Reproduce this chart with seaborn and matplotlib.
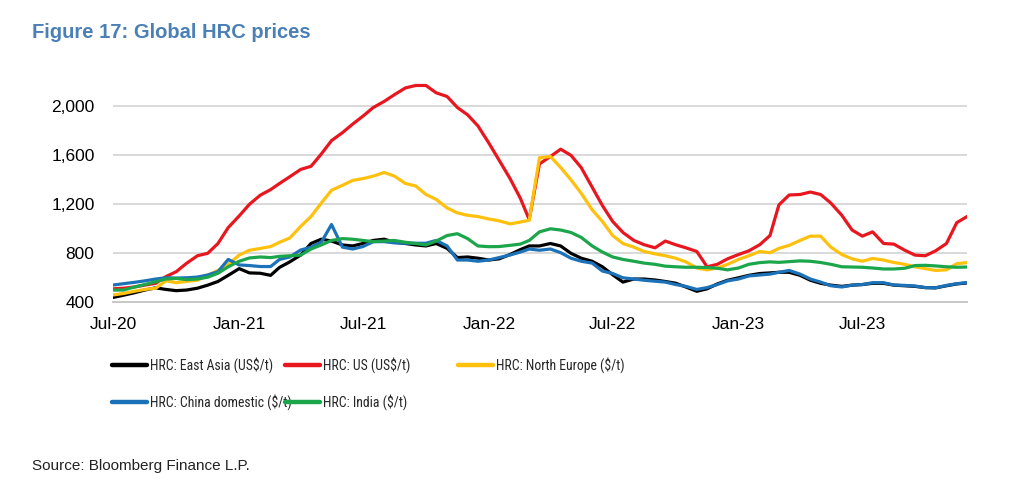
import matplotlib
matplotlib.use("Agg")
import matplotlib.pyplot as plt
from matplotlib import font_manager
from matplotlib.font_manager import FontProperties
from matplotlib.ticker import FuncFormatter
import seaborn as sns
import pandas as pd

# ---------------- data (semi-monthly readings, Jul-2020 .. Dec-2023) ----------------
east_asia = [440, 458, 478, 500, 518, 505, 495, 500, 515, 540,
             570, 620, 675, 640, 637, 620, 685, 730, 786, 880,
             915, 900, 868, 860, 880, 905, 915, 890, 880, 868,
             860, 880, 840, 765, 770, 760, 745, 755, 790, 830,
             860, 860, 880, 860, 800, 760, 735, 690, 625, 565,
             590, 590, 582, 570, 556, 525, 490, 510, 550, 580,
             600, 620, 635, 640, 645, 645, 620, 580, 555, 540,
             530, 540, 545, 555, 555, 540, 535, 530, 520, 518,
             535, 550, 558]
us = [510, 515, 525, 540, 555, 610, 650, 718, 780, 800,
      880, 1010, 1105, 1200, 1275, 1320, 1370, 1425, 1485, 1510,
      1610, 1720, 1785, 1855, 1920, 1990, 2040, 2095, 2150, 2170,
      2170, 2110, 2080, 1990, 1930, 1840, 1700, 1560, 1410, 1250,
      1075, 1530, 1590, 1650, 1600, 1500, 1340, 1190, 1060, 970,
      905, 870, 845, 900, 870, 845, 815, 690, 710, 755,
      790, 820, 870, 945, 1195, 1276, 1280, 1300, 1280, 1210,
      1110, 990, 940, 975, 880, 875, 825, 785, 780, 820,
      880, 1050, 1100]
north_europe = [460, 472, 490, 505, 515, 575, 560, 570, 580, 620,
                660, 710, 785, 825, 840, 855, 890, 925, 1020, 1100,
                1210, 1315, 1355, 1395, 1410, 1430, 1460, 1430, 1370, 1350,
                1280, 1240, 1170, 1130, 1110, 1100, 1080, 1065, 1040, 1055,
                1070, 1580, 1590, 1500, 1400, 1290, 1155, 1060, 945, 880,
                850, 815, 795, 780, 760, 730, 680, 665, 680, 710,
                750, 780, 815, 805, 840, 865, 905, 940, 940, 850,
                790, 755, 735, 758, 745, 725, 710, 690, 675, 660,
                665, 715, 724]
china = [541, 552, 563, 575, 590, 600, 598, 600, 606, 623,
         650, 750, 705, 700, 692, 692, 750, 770, 827, 850,
         890, 1035, 850, 835, 855, 895, 895, 885, 882, 882,
         882, 905, 860, 745, 745, 735, 745, 765, 786, 810,
         835, 825, 835, 805, 760, 735, 720, 655, 635, 600,
         590, 580, 572, 565, 545, 530, 505, 520, 545, 575,
         590, 615, 623, 630, 645, 660, 630, 590, 565, 535,
         525, 540, 545, 560, 560, 541, 538, 533, 520, 518,
         538, 552, 561]
india = [500, 500, 525, 545, 568, 590, 595, 585, 590, 605,
         637, 690, 735, 762, 770, 765, 775, 780, 785, 835,
         868, 905, 920, 915, 905, 895, 900, 905, 890, 880,
         868, 900, 945, 960, 920, 860, 854, 855, 865, 875,
         905, 975, 1000, 990, 970, 930, 860, 810, 770, 750,
         735, 720, 710, 695, 690, 686, 686, 684, 678, 665,
         680, 710, 724, 730, 726, 732, 738, 735, 725, 710,
         690, 688, 686, 680, 672, 672, 678, 700, 702, 697,
         690, 686, 688]

series_names = ["HRC: East Asia (US$/t)", "HRC: US (US$/t)", "HRC: North Europe ($/t)",
                "HRC: China domestic ($/t)", "HRC: India ($/t)"]
series_values = [east_asia, us, north_europe, china, india]
series_colors = ["#000000", "#E8171F", "#FFC10E", "#1C72B8", "#1CA64B"]

y_ticks = [400, 800, 1200, 1600, 2000]
x_tick_labels = ["Jul-20", "Jan-21", "Jul-21", "Jan-22", "Jul-22", "Jan-23", "Jul-23"]
x_tick_dates = ["2020-07-01", "2021-01-01", "2021-07-01", "2022-01-01",
                "2022-07-01", "2023-01-01", "2023-07-01"]

# semi-monthly date grid
months = pd.date_range("2020-07-01", "2023-12-01", freq="MS")
dates = []
for m in months:
    dates.append(m)
    if m != months[-1]:
        dates.append(m + pd.Timedelta(days=15))

frames = []
for name, vals in zip(series_names, series_values):
    frames.append(pd.DataFrame({"date": dates, "price": vals, "series": name}))
df = pd.concat(frames, ignore_index=True)

# ---------------- style ----------------
sns.set_theme(style="white")
names = {f.name for f in font_manager.fontManager.ttflist}
base_font = "Liberation Sans" if "Liberation Sans" in names else "DejaVu Sans"
plt.rcParams["font.family"] = [base_font, "DejaVu Sans"]


def find_narrow():
    prefs = ["Liberation Sans Narrow", "Arial Narrow", "Roboto Condensed",
             "Open Sans Condensed", "Noto Sans", "DejaVu Sans"]
    cands = []
    for f in font_manager.fontManager.ttflist:
        narrow = ("Narrow" in f.name or "Condensed" in f.name
                  or str(f.stretch) in ("condensed", "semi-condensed", "extra-condensed"))
        w = f.weight
        regular = (w in (400, "normal", "regular", "book"))
        if narrow and f.style == "normal" and regular and "Mono" not in f.name \
                and "Serif" not in f.name:
            cands.append(f)
    for p in prefs:
        for f in cands:
            if f.name == p:
                return f
    return cands[0] if cands else None


nf = find_narrow()

fig = plt.figure(figsize=(10.24, 4.95), dpi=100)
ax = fig.add_axes([113.3 / 1024, 1 - 302.3 / 495, (967 - 113.3) / 1024, (302.3 - 81.8) / 495])

palette = dict(zip(series_names, series_colors))
sns.lineplot(data=df, x="date", y="price", hue="series", hue_order=series_names,
             palette=palette, linewidth=2.3, errorbar=None, ax=ax)

handles, labels = ax.get_legend_handles_labels()
if ax.get_legend() is not None:
    ax.get_legend().remove()

ax.set_ylim(400, 2200)
ax.set_xlim(dates[0], dates[-1])
ax.set_yticks(y_ticks)
ax.yaxis.set_major_formatter(FuncFormatter(lambda v, p: f"{v:,.0f}"))
ax.set_xticks(pd.to_datetime(x_tick_dates))
ax.set_xticklabels(x_tick_labels)
ax.set_xlabel("")
ax.set_ylabel("")

ax.grid(axis="y", color="#D9D9D9", linewidth=1.4)
ax.grid(axis="x", visible=False)
ax.set_axisbelow(True)
for s in ["left", "top", "right"]:
    ax.spines[s].set_visible(False)
ax.spines["bottom"].set_color("#C8C8C8")
ax.spines["bottom"].set_linewidth(1.4)
ax.tick_params(axis="y", length=0, pad=13.5, labelsize=12.5, labelcolor="#000000")
ax.tick_params(axis="x", length=4.5, width=1.0, color="#C8C8C8", pad=6,
               labelsize=12.5, labelcolor="#000000")

# ---------------- legend (three columns) ----------------
hmap = dict(zip(labels, handles))
if nf is not None:
    leg_size = 9.9
    leg_prop = FontProperties(fname=nf.fname, size=leg_size)
    col_x = [112, 285, 458]
else:
    leg_size = 10.5
    leg_prop = FontProperties(family=base_font, size=leg_size)
    col_x = [112, 300, 470]
fpx = leg_size * 100 / 72
cols = [(col_x[0], [series_names[0], series_names[3]]),
        (col_x[1], [series_names[1], series_names[4]]),
        (col_x[2], [series_names[2]])]
for x0, labs in cols:
    hs = []
    for l in labs:
        h = hmap[l]
        h.set_linewidth(3.2)
        hs.append(h)
    fig.legend(hs, labs, loc="upper left",
               bbox_to_anchor=(x0 / 1024, 1 - (365 - 0.55 * fpx) / 495),
               frameon=False, borderpad=0, borderaxespad=0,
               handlelength=35 / fpx, handletextpad=3 / fpx,
               labelspacing=(37 - 1.15 * fpx) / fpx, prop=leg_prop)

# ---------------- title and source ----------------
fig.text(32 / 1024, 1 - 32 / 495, "Figure 17: Global HRC prices", color="#4A80B5",
         fontsize=14.5, fontweight="bold", va="center", ha="left")
fig.text(32 / 1024, 1 - 466 / 495, "Source: Bloomberg Finance L.P.", color="#222222",
         fontsize=11, va="center", ha="left")

fig.savefig("out.png", dpi=100)
